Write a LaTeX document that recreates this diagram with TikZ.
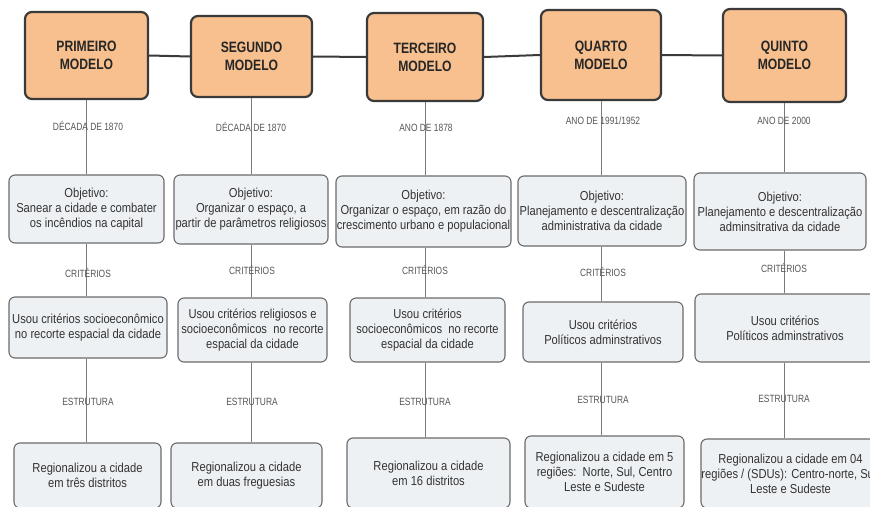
\documentclass[tikz,border=0pt]{standalone}
\usepackage{fontspec}
\setmainfont{Liberation Sans}[FakeStretch=0.86]
\newfontfamily\lblfont{Liberation Sans}[FakeStretch=0.8]
\newfontfamily\headfont{Liberation Sans}[FakeStretch=0.81]
\definecolor{orangefill}{HTML}{F7C08E}
\definecolor{orangeedge}{HTML}{3A3A3A}
\definecolor{boxfill}{HTML}{EEF1F4}
\definecolor{boxedge}{HTML}{6B6B6B}
\definecolor{boxtext}{HTML}{333333}
\definecolor{lbltext}{HTML}{555555}
\definecolor{vlinecol}{HTML}{7A7A7A}
\tikzset{
  modelbox/.style={draw=orangeedge, line width=2.2pt, fill=orangefill, rounded corners=7pt,
    align=center, inner sep=0pt, text=black!85,
    font=\headfont\bfseries\fontsize{15}{18}\selectfont},
  infobox/.style={draw=boxedge, line width=1.1pt, fill=boxfill, rounded corners=6pt,
    align=center, inner sep=0pt, text=boxtext,
    font=\fontsize{13}{15}\selectfont},
  lbl/.style={inner sep=1pt, text=lbltext, font=\lblfont\fontsize{10.5}{12}\selectfont},
  hline/.style={draw=orangeedge, line width=2pt},
  vline/.style={draw=vlinecol, line width=1pt}
}
\begin{document}
\begin{tikzpicture}[x=1pt,y=-1pt]
\fill[white] (0,0) rectangle (870,506);
\useasboundingbox (0,0) rectangle (870,506);

% top model boxes
\node[modelbox, minimum width=123, minimum height=87] (m1) at (86.5,55.5) {PRIMEIRO\\MODELO};
\node[modelbox, minimum width=121, minimum height=81] (m2) at (251.5,56.5) {SEGUNDO\\MODELO};
\node[modelbox, minimum width=116, minimum height=88] (m3) at (425,57) {TERCEIRO\\MODELO};
\node[modelbox, minimum width=120, minimum height=90] (m4) at (601,55) {QUARTO\\MODELO};
\node[modelbox, minimum width=123, minimum height=93] (m5) at (784.5,55.5) {QUINTO\\MODELO};

% objective boxes
\node[infobox, minimum width=155, minimum height=68] (o1) at (86.5,209) {Objetivo:\\Sanear a cidade e combater\\os incêndios na capital};
\node[infobox, minimum width=154, minimum height=69] (o2) at (251,209.5) {Objetivo:\\Organizar o espaço, a\\partir de parâmetros religiosos};
\node[infobox, minimum width=175, minimum height=71] (o3) at (423.5,211.5) {Objetivo:\\Organizar o espaço, em razão do\\crescimento urbano e populacional};
\node[infobox, minimum width=168, minimum height=70] (o4) at (602,211) {Objetivo:\\Planejamento e descentralização\\administrativa da cidade};
\node[infobox, minimum width=172, minimum height=77] (o5) at (780,211.5) {Objetivo:\\Planejamento e descentralização\\adminsitrativa da cidade};

% criteria boxes
\node[infobox, minimum width=158, minimum height=61] (c1) at (88,327.5) {Usou critérios socioeconômico\\no recorte espacial da cidade};
\node[infobox, minimum width=149, minimum height=64] (c2) at (252.5,330) {Usou critérios religiosos e\\socioeconômicos\ \ no recorte\\espacial da cidade};
\node[infobox, minimum width=155, minimum height=64] (c3) at (427.5,330) {Usou critérios\\socioeconômicos\ \ no recorte\\espacial da cidade};
\node[infobox, minimum width=160, minimum height=60] (c4) at (603,332) {Usou critérios\\Políticos adminstrativos};
\node[infobox, minimum width=180, minimum height=68] (c5) at (785,328) {Usou critérios\\Políticos adminstrativos};

% structure boxes
\node[infobox, minimum width=147, minimum height=65] (b1) at (87.5,475.5) {Regionalizou a cidade\\em três distritos};
\node[infobox, minimum width=151, minimum height=65] (b2) at (246.5,475.5) {Regionalizou a cidade\\em duas freguesias};
\node[infobox, minimum width=163, minimum height=70] (b3) at (428.5,473) {Regionalizou a cidade\\em 16 distritos};
\node[infobox, minimum width=159, minimum height=72] (b4) at (604.5,472) {Regionalizou a cidade em 5\\regiões:\ \ Norte, Sul, Centro\\Leste e Sudeste};
\node[infobox, minimum width=179, minimum height=69] (b5) at (790.5,473.5) {Regionalizou a cidade em 04\\regiões / (SDUs): Centro-norte, Sul,\\Leste e Sudeste};

% horizontal connectors
\draw[hline] (m1.east) -- (m2.west);
\draw[hline] (m2.east) -- (m3.west);
\draw[hline] (m3.east) -- (m4.west);
\draw[hline] (m4.east) -- (m5.west);

% vertical connectors
\foreach \i in {1,...,5}{
  \draw[vline] (m\i.south) -- (m\i.south |- o\i.north);
  \draw[vline] (m\i.south |- o\i.south) -- (m\i.south |- c\i.north);
  \draw[vline] (m\i.south |- c\i.south) -- (m\i.south |- b\i.north);
}

% labels
\node[lbl] (y1) at (88,126) {DÉCADA DE 1870};
\node[lbl] (y2) at (251,127) {DÉCADA DE 1870};
\node[lbl] (y3) at (426,128) {ANO DE 1878};
\node[lbl] (y4) at (603,121) {ANO DE 1991/1952};
\node[lbl] (y5) at (784,121) {ANO DE 2000};

\node[lbl] (k1) at (88,273) {CRITÉRIOS};
\node[lbl] (k2) at (252,270) {CRITÉRIOS};
\node[lbl] (k3) at (425,270) {CRITÉRIOS};
\node[lbl] (k4) at (603,272) {CRITÉRIOS};
\node[lbl] (k5) at (784,268) {CRITÉRIOS};

\node[lbl] (e1) at (88,402) {ESTRUTURA};
\node[lbl] (e2) at (252,402) {ESTRUTURA};
\node[lbl] (e3) at (425,402) {ESTRUTURA};
\node[lbl] (e4) at (603,400) {ESTRUTURA};
\node[lbl] (e5) at (784,399) {ESTRUTURA};
\end{tikzpicture}
\end{document}
